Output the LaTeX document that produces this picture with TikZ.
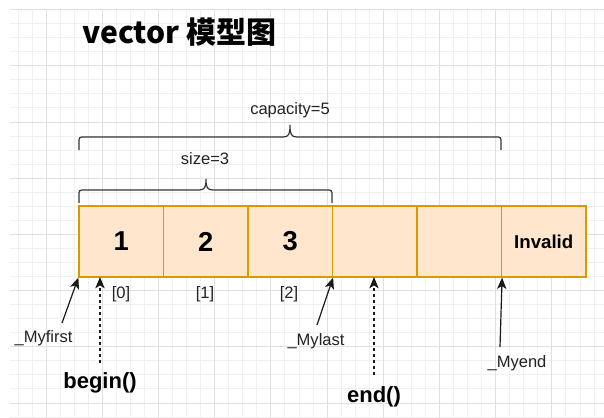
\documentclass[tikz,border=0pt]{standalone}
\usepackage{fontspec}
\setmainfont{Liberation Sans}
\newfontfamily\cjk{Noto Sans CJK SC}
\usetikzlibrary{arrows.meta}
\definecolor{cellfill}{HTML}{FFE6CC}
\definecolor{celldraw}{HTML}{D79B00}
\definecolor{gridmajor}{HTML}{E0E0E0}
\definecolor{gridminor}{HTML}{F0F0F0}
\definecolor{ink}{HTML}{222222}
\definecolor{bracecol}{HTML}{333333}
\tikzset{
  cell/.style={draw=celldraw, fill=cellfill, line width=0.9pt, minimum width=63.375pt, minimum height=53.25pt, inner sep=0pt, font=\bfseries\fontsize{20.5}{24}\selectfont},
  small/.style={inner sep=0pt, text=ink, font=\fontsize{12.4}{15}\selectfont},
  bigfn/.style={inner sep=0pt, text=black, font=\bfseries\fontsize{16.5}{20}\selectfont},
  ptr/.style={draw=black!90, line width=0.9pt, -{Stealth[length=8.5pt, width=7pt, inset=2.2pt]}},
  dptr/.style={ptr, dash pattern=on 2.5pt off 2pt},
  bracepath/.style={draw=bracecol, line width=0.9pt},
  gminor/.style={draw=gridminor, line width=0.6pt},
  gmajor/.style={draw=gridmajor, line width=0.6pt}
}
\begin{document}
\begin{tikzpicture}[x=0.75pt, y=-0.75pt]
\useasboundingbox (0,0) rectangle (604,418);
\fill[white] (0,0) rectangle (604,418);
% grid
\begin{scope}
\clip (10,9) rectangle (604,418);
\foreach \i in {-3,...,42} \draw[gminor] ({46+\i*14.05},9) -- ({46+\i*14.05},418);
\foreach \j in {0,...,30} \draw[gminor] (10,{9.5+\j*14.05}) -- (604,{9.5+\j*14.05});
\foreach \i in {-1,...,10} \draw[gmajor] ({46+\i*56.2},9) -- ({46+\i*56.2},418);
\foreach \j in {0,...,7} \draw[gmajor] (10,{9.5+\j*56.2}) -- (604,{9.5+\j*56.2});
\end{scope}
% title
\node[anchor=west, inner sep=0pt, font=\cjk\bfseries\fontsize{22.5}{27}\selectfont] (title) at (82,32) {vector 模型图};
% cells
\node[cell] (c1) at (121.25,241.5) {1};
\node[cell] (c2) at (205.75,241.5) {2};
\node[cell] (c3) at (290.25,241.5) {3};
\node[cell] (c4) at (374.75,241.5) {};
\node[cell] (c5) at (459.25,241.5) {};
\node[cell, font=\bfseries\fontsize{14}{17}\selectfont] (c6) at (543.75,241.5) {Invalid};
% indices
\node[small] (i0) at (121,294) {[0]};
\node[small] (i1) at (205,294) {[1]};
\node[small] (i2) at (289,294) {[2]};
% braces
\draw[bracepath] (79,150) -- (79,143) .. controls (79,137) .. (85,137) -- (283,137) .. controls (289,137) and (290,134) .. (290,125) .. controls (290,134) and (291,137) .. (297,137) -- (495,137) .. controls (501,137) .. (501,143) -- (501,150);
\node[small] (cap) at (290,110) {capacity=5};
\draw[bracepath] (79,203) -- (79,196) .. controls (79,190) .. (85,190) -- (199,190) .. controls (205,190) and (206,187) .. (206,179) .. controls (206,187) and (207,190) .. (213,190) -- (326,190) .. controls (332,190) .. (332,196) -- (332,203);
\node[small] (sz) at (205,159) {size=3};
% pointer labels
\node[small] (myfirst) at (43.5,338) {\_Myfirst};
\node[small] (mylast) at (316,341) {\_Mylast};
\node[small] (myend) at (517,363) {\_Myend};
\node[bigfn] (begin) at (100,383) {begin()};
\node[bigfn] (endf) at (374,397) {end()};
% tails and heads
\coordinate (tfirst) at (62,323);
\coordinate (tlast) at (317,325);
\coordinate (tend) at (500,347);
\coordinate (tbegin) at (100,363);
\coordinate (tendf) at (374,375);
\coordinate (hbegin) at (100,277);
\coordinate (hendf) at (374,277);
\draw[ptr] (tfirst) -- (c1.south west);
\draw[ptr] (tlast) -- (c3.south east);
\draw[ptr] (tend) -- (c5.south east);
\draw[dptr] (tbegin) -- (hbegin);
\draw[dptr] (tendf) -- (hendf);
\end{tikzpicture}
\end{document}
